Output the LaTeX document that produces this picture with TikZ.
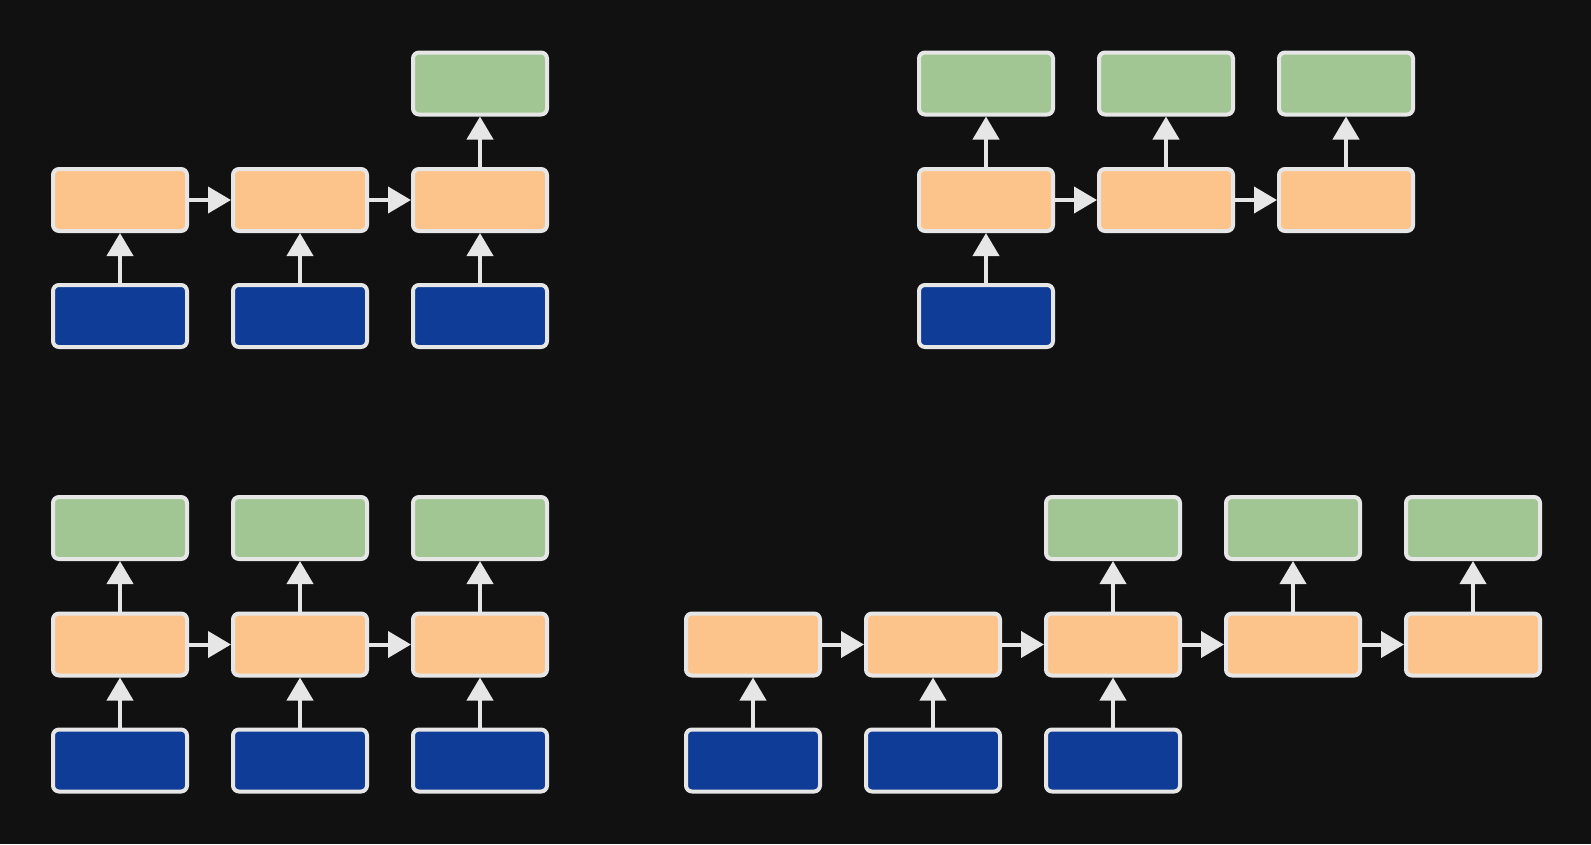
\documentclass[tikz,border=0pt]{standalone}
\usetikzlibrary{arrows.meta}
\definecolor{bgc}{HTML}{111111}
\definecolor{edgec}{HTML}{E6E6E6}
\definecolor{hidc}{HTML}{FCC48A}
\definecolor{outc}{HTML}{A1C694}
\definecolor{inc}{HTML}{0E3C96}
\tikzset{
  cell/.style={draw=edgec, line width=4pt, rounded corners=6pt,
    minimum width=134pt, minimum height=62pt, inner sep=0pt},
  hid/.style={cell, fill=hidc},
  outp/.style={cell, fill=outc},
  inp/.style={cell, fill=inc},
  link/.style={draw=edgec, line width=4pt,
    -{Triangle[length=23pt,width=26pt]}, fill=edgec}
}
\begin{document}
\begin{tikzpicture}[x=1pt,y=-1pt]
\fill[bgc] (0,0) rectangle (1591,844);
\useasboundingbox (0,0) rectangle (1591,844);

% many-to-one
\foreach \i/\x in {1/120,2/300,3/480}{
  \node[hid] (a\i) at (\x,200) {};
  \node[inp] (ai\i) at (\x,316) {};
  \draw[link] (ai\i) -- (a\i);
}
\node[outp] (ao3) at (480,83.5) {};
\draw[link] (a1) -- (a2);
\draw[link] (a2) -- (a3);
\draw[link] (a3) -- (ao3);

% one-to-many
\foreach \i/\x in {1/986,2/1166,3/1346}{
  \node[hid] (b\i) at (\x,200) {};
  \node[outp] (bo\i) at (\x,83.5) {};
  \draw[link] (b\i) -- (bo\i);
}
\node[inp] (bi1) at (986,316) {};
\draw[link] (bi1) -- (b1);
\draw[link] (b1) -- (b2);
\draw[link] (b2) -- (b3);

% many-to-many, aligned
\foreach \i/\x in {1/120,2/300,3/480}{
  \node[hid] (c\i) at (\x,644.5) {};
  \node[inp] (ci\i) at (\x,760.5) {};
  \node[outp] (co\i) at (\x,528) {};
  \draw[link] (ci\i) -- (c\i);
  \draw[link] (c\i) -- (co\i);
}
\draw[link] (c1) -- (c2);
\draw[link] (c2) -- (c3);

% many-to-many, delayed
\foreach \i/\x in {1/753,2/933,3/1113,4/1293,5/1473}{
  \node[hid] (d\i) at (\x,644.5) {};
}
\foreach \i/\x in {1/753,2/933,3/1113}{
  \node[inp] (di\i) at (\x,760.5) {};
  \draw[link] (di\i) -- (d\i);
}
\foreach \i/\x in {3/1113,4/1293,5/1473}{
  \node[outp] (do\i) at (\x,528) {};
  \draw[link] (d\i) -- (do\i);
}
\draw[link] (d1) -- (d2);
\draw[link] (d2) -- (d3);
\draw[link] (d3) -- (d4);
\draw[link] (d4) -- (d5);
\end{tikzpicture}
\end{document}
